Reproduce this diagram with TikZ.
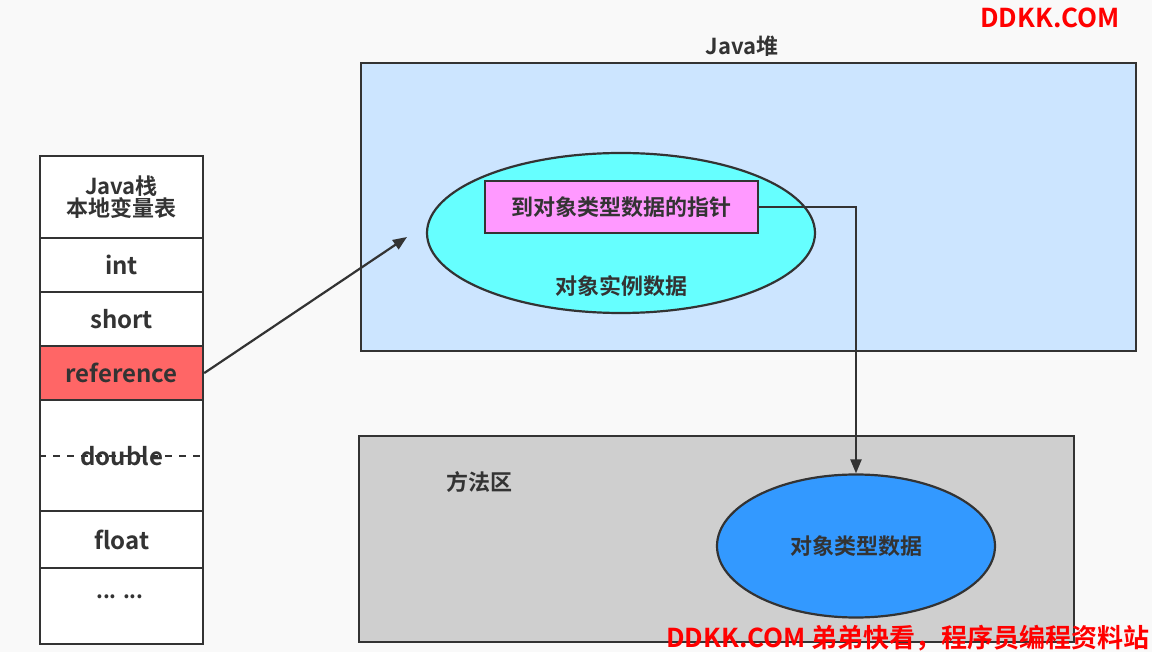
\documentclass[tikz,border=0pt]{standalone}
\usepackage{fontspec}
\setmainfont{Noto Sans CJK SC}[BoldFont={* Bold}]
\usetikzlibrary{shapes.geometric,arrows.meta}
\definecolor{ink}{HTML}{333333}
\definecolor{bg}{HTML}{F9F9F9}
\definecolor{heap}{HTML}{CCE5FF}
\definecolor{cyanfill}{HTML}{66FFFF}
\definecolor{pinkfill}{HTML}{FF99FF}
\definecolor{areafill}{HTML}{CFCFCF}
\definecolor{bluefill}{HTML}{3399FF}
\definecolor{reffill}{HTML}{FF6666}
\definecolor{wm}{HTML}{FF0000}
\tikzset{
  base/.style={draw=ink, line width=2.2pt},
  txt/.style={text=ink, font=\bfseries\fontsize{22}{25}\selectfont, inner sep=0pt},
  cell/.style={base, fill=white, minimum width=163pt, anchor=north west, inner sep=0pt, txt},
  lat/.style={font=\bfseries\fontsize{24}{26}\selectfont},
  conn/.style={draw=ink, line width=2.2pt, -{Triangle[length=14pt,width=11pt]}},
  wmark/.style={text=wm, font=\bfseries\fontsize{26}{28}\selectfont, inner sep=0pt}
}
\begin{document}
\begin{tikzpicture}[x=1pt,y=-1pt]
\fill[bg] (0,0) rectangle (1152,652);
\useasboundingbox (0,0) rectangle (1152,652);
% stack
\node[cell, minimum height=82pt, align=center] (h) at (39,155) {Java栈\\[-3pt]本地变量表};
\node[cell, lat, minimum height=54pt] (int) at (39,237) {int};
\node[cell, lat, minimum height=54pt] (short) at (39,291) {short};
\node[cell, lat, minimum height=54pt, fill=reffill] (ref) at (39,345) {reference};
\node[cell, lat, minimum height=111pt] (dbl) at (39,399) {double};
\draw[ink, line width=2.2pt, dash pattern=on 7pt off 7pt] (dbl.west) -- (dbl.east);
\node[cell, lat, minimum height=57pt] (flt) at (39,510) {float};
\node[cell, minimum height=76pt] (dots) at (39,567) {};
\node[txt, font=\bfseries\fontsize{21}{22}\selectfont] (dt) at (120,597) {... ...};
% heap
\node[base, fill=heap, minimum width=775pt, minimum height=288pt, anchor=north west] (heapbox) at (360,62) {};
\node[txt] (heaplbl) at (742,46) {Java堆};
\node[base, ellipse, fill=cyanfill, minimum width=388pt, minimum height=160pt, inner sep=0pt] (inst) at (621,233) {};
\node[base, fill=pinkfill, minimum width=273pt, minimum height=52pt, inner sep=0pt, txt] (ptr) at (621.5,207) {到对象类型数据的指针};
\node[txt] (instlbl) at (621,286) {对象实例数据};
\coordinate (tip) at (407,237);
\draw[conn] (ref.east) -- (tip);
% method area
\node[base, fill=areafill, minimum width=715pt, minimum height=206pt, anchor=north west] (area) at (358,435) {};
\node[txt] (arealbl) at (479,482) {方法区};
\node[base, ellipse, fill=bluefill, minimum width=278pt, minimum height=143pt, inner sep=0pt, txt] (type) at (856,546) {对象类型数据};
\draw[conn] (ptr.east) -| (type.north);
% watermarks
\node[wmark] (wm1) at (1050,18) {DDKK.COM};
\node[wmark] (wm2) at (908,638) {DDKK.COM 弟弟快看，程序员编程资料站};
\end{tikzpicture}
\end{document}
